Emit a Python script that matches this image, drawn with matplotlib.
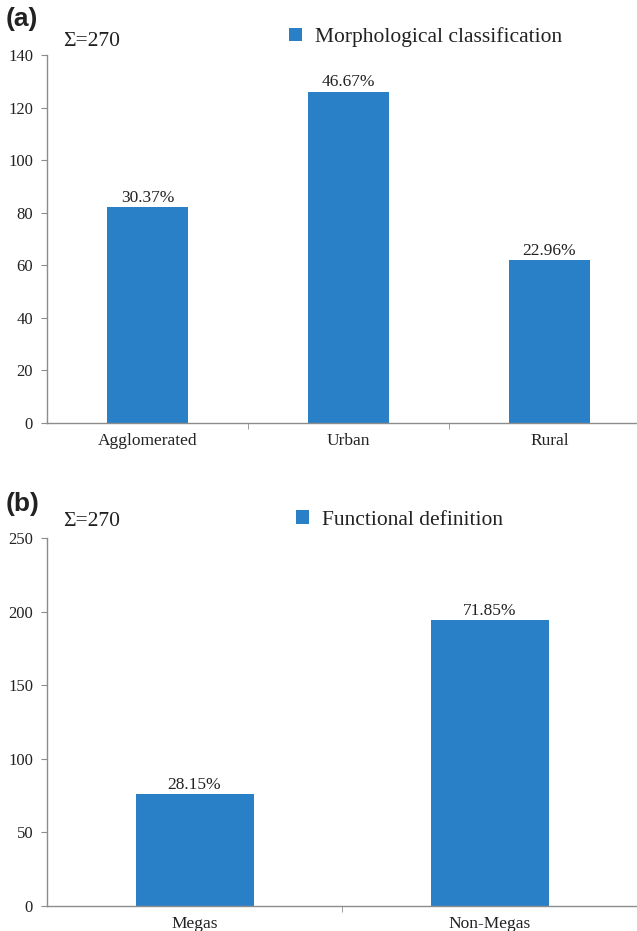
import matplotlib.pyplot as plt
import numpy as np

# Panel (a): morphological classification
morph_cats = ['Agglomerated', 'Urban', 'Rural']
morph_counts = [82, 126, 62]
morph_pct = ['30.37%', '46.67%', '22.96%']

# Panel (b): functional definition
func_cats = ['Megas', 'Non-Megas']
func_counts = [76, 194]
func_pct = ['28.15%', '71.85%']

total_label = 'Σ=270'
bar_color = '#2a80c6'
spine_color = '#8c8c8c'
W, H = 637, 931

plt.rcParams['font.family'] = ['Liberation Serif', 'DejaVu Serif']
fig = plt.figure(figsize=(W / 100, H / 100), dpi=100)


def px(x, y):
    """pixel coords (top-left origin) -> figure fraction"""
    return x / W, 1 - y / H


def draw_panel(rect, cats, counts, pcts, ymax, ystep, legend_text, leg_xy, tag, tag_xy, sig_xy):
    ax = fig.add_axes(rect)
    x = np.arange(len(cats))
    bars = ax.bar(x, counts, width=0.4, color=bar_color, label=legend_text, zorder=2)
    for b, p in zip(bars, pcts):
        ax.annotate(p, (b.get_x() + b.get_width() / 2, b.get_height()),
                    xytext=(0, 1), textcoords='offset points',
                    ha='center', va='bottom', fontsize=12.5, color='#222222')
    ax.set_xlim(-0.5, len(cats) - 0.5)
    ax.set_ylim(0, ymax)
    ax.set_yticks(np.arange(0, ymax + 1, ystep))
    ax.set_xticks(x)
    ax.set_xticklabels(cats)
    ax.set_xticks(np.arange(0.5, len(cats) - 0.5, 1), minor=True)
    ax.tick_params(axis='x', which='major', length=0, pad=7, labelsize=12.5, labelcolor='#222222')
    ax.tick_params(axis='x', which='minor', length=4, direction='out', color=spine_color)
    ax.tick_params(axis='y', length=4, direction='out', color=spine_color, labelsize=12,
                   labelcolor='#222222', pad=6)
    for s in ('top', 'right'):
        ax.spines[s].set_visible(False)
    for s in ('left', 'bottom'):
        ax.spines[s].set_color(spine_color)
        ax.spines[s].set_linewidth(1.0)
    leg = ax.legend(loc='center left', bbox_to_anchor=px(*leg_xy), bbox_transform=fig.transFigure,
                    frameon=False, fontsize=15.5, handlelength=0.6, handleheight=0.6,
                    handletextpad=0.6, borderpad=0, borderaxespad=0)
    for t in leg.get_texts():
        t.set_color('#222222')
    fig.text(*px(*tag_xy), tag, fontsize=19, fontweight='bold', family='Liberation Sans',
             ha='left', va='center', color='#222222')
    fig.text(*px(*sig_xy), total_label, fontsize=15.5, ha='left', va='center', color='#222222')
    return ax


ax_a = draw_panel([47 / W, 1 - 423 / H, 603 / W, 368 / H], morph_cats, morph_counts, morph_pct,
                  140, 20, 'Morphological classification', (289, 37), '(a)', (6, 19), (63, 42))
ax_b = draw_panel([47 / W, 1 - 906 / H, 590 / W, 368 / H], func_cats, func_counts, func_pct,
                  250, 50, 'Functional definition', (296, 520), '(b)', (6, 504), (63, 522))

fig.savefig('out.png', dpi=100)
